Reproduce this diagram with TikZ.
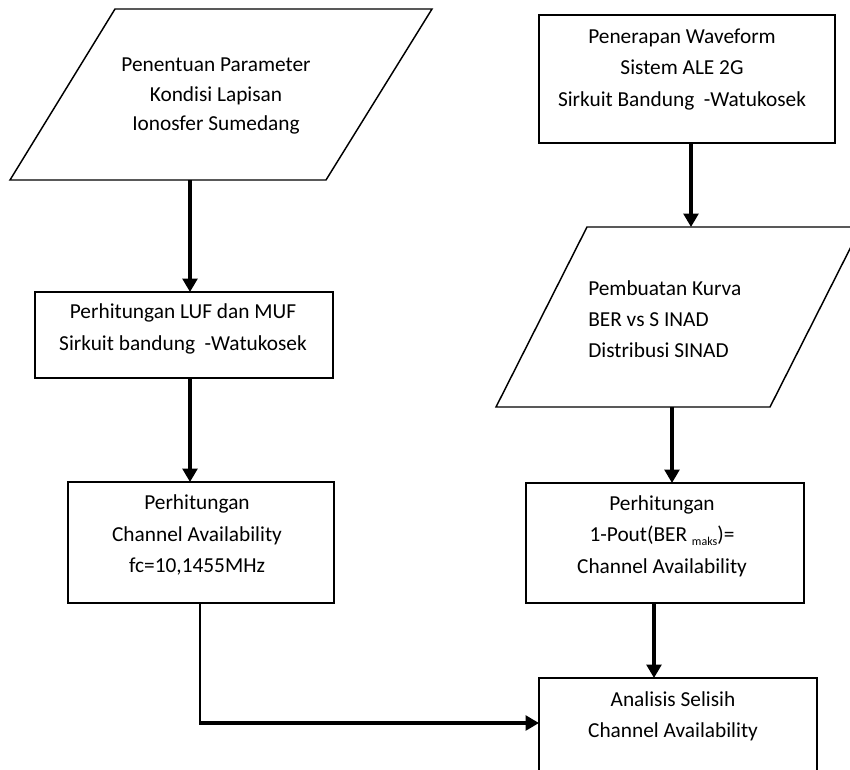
\documentclass[tikz,border=0pt]{standalone}
\usepackage{fontspec}
\setmainfont{Carlito}
\usetikzlibrary{arrows.meta,calc}
\begin{document}
\begin{tikzpicture}[x=0.75pt,y=-0.75pt,
  shapebox/.style={inner sep=0pt,outer sep=0pt},
  box/.style={draw,line width=1.1pt,inner sep=0pt,outer sep=0pt},
  border/.style={draw,line width=1.1pt},
  txt/.style={font=\fontsize{16}{23.5}\selectfont,align=center,inner sep=0pt},
  flow/.style={line width=2.4pt,-{Triangle[width=11pt,length=10pt]}},
  thinline/.style={line width=0.9pt}
]
\clip (0,0) rectangle (850,769);

% --- left column ---
\node[shapebox,minimum width=316.5pt,minimum height=128.25pt] (P1) at (221,94.5) {};
\draw[border] ($(P1.north west)+(105,0)$) -- (P1.north east) -- ($(P1.south east)+(-106,0)$) -- (P1.south west) -- cycle;
\node[txt,font=\fontsize{16}{21.8}\selectfont] (P1t) at (216,96) {Penentuan Parameter\\Kondisi Lapisan\\Ionosfer Sumedang};

\node[box,minimum width=223.5pt,minimum height=64.5pt] (LUF) at (184,335) {};
\node[txt] (LUFt) at (183,329) {Perhitungan LUF dan MUF\\Sirkuit bandung\hspace{0.45em}-Watukosek};

\node[box,minimum width=199.5pt,minimum height=90.75pt] (CH) at (201,542.5) {};
\node[txt] (CHt) at (197,535) {Perhitungan\\Channel Availability\\fc=10,1455MHz};

% --- right column ---
\node[box,minimum width=222pt,minimum height=96pt] (WF) at (687,79) {};
\node[txt] (WFt) at (682,69.5) {Penerapan Waveform\\Sistem ALE 2G\\Sirkuit Bandung\hspace{0.45em}-Watukosek};

\node[shapebox,minimum width=273.75pt,minimum height=135pt] (P2) at (678.5,317) {};
\draw[border] ($(P2.north west)+(91,0)$) -- (P2.north east) -- ($(P2.south east)+(-91,0)$) -- (P2.south west) -- cycle;
\node[txt,align=left,anchor=west] (P2t) at (588,319) {Pembuatan Kurva\\BER vs S INAD\\Distribusi SINAD};

\node[box,minimum width=208.5pt,minimum height=90pt] (PO) at (665,543) {};
\node[txt] (POt) at (662,536) {Perhitungan\\1-Pout(BER \raisebox{-2.5pt}{\fontsize{9}{9}\selectfont maks})=\\Channel Availability};

\node[box,minimum width=208.5pt,minimum height=91.5pt] (AN) at (678,739) {};
\node[txt] (ANt) at (673,716) {Analisis Selisih\\Channel Availability};

% --- connector x positions ---
\coordinate (xa) at (190,0);
\coordinate (xb) at (691,0);
\coordinate (xc) at (672,0);
\coordinate (xd) at (654,0);
\coordinate (xe) at (200,0);
\coordinate (corner) at (200,723);

\draw[flow] (P1.south -| xa) -- (LUF.north -| xa);
\draw[flow] (LUF.south -| xa) -- (CH.north -| xa);
\draw[flow] (WF.south -| xb) -- (P2.north -| xb);
\draw[flow] (P2.south -| xc) -- (PO.north -| xc);
\draw[flow] (PO.south -| xd) -- (AN.north -| xd);
\draw[thinline] (CH.south -| xe) -- (corner);
\draw[flow] ([xshift=-0.6pt]corner) -- (corner -| AN.west);
\end{tikzpicture}
\end{document}
